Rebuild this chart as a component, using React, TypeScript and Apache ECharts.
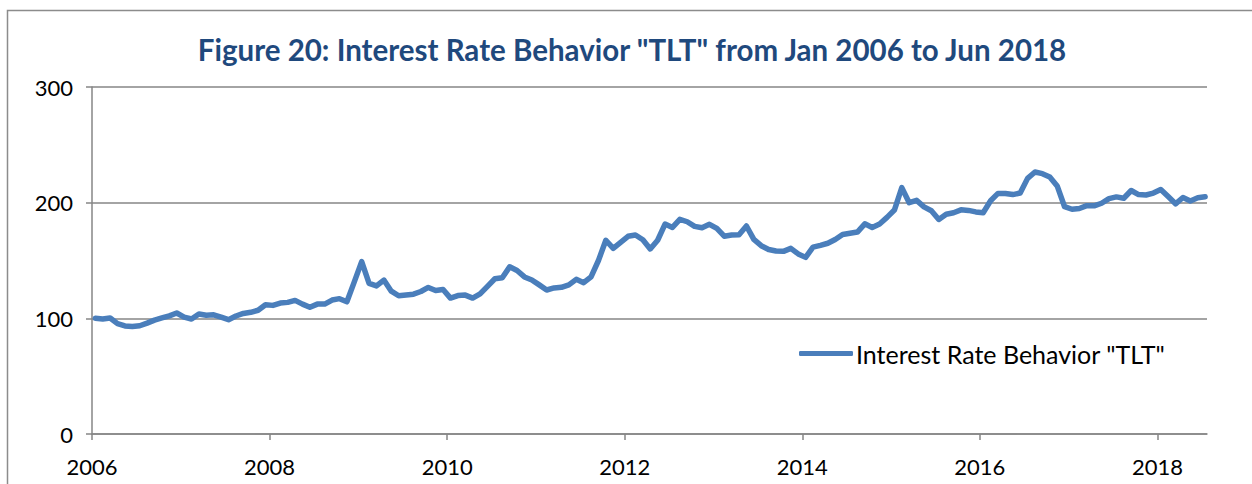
import React, { useEffect, useRef } from "react";
import * as echarts from "echarts";

const TITLE = 'Figure 20: Interest Rate Behavior "TLT" from Jan 2006 to Jun 2018';
const SERIES_NAME = 'Interest Rate Behavior "TLT"';
const START_YEAR = 2006;
// observations are mid-month; offset in months from the 1st of the month
const OBS_OFFSET = 0.45;
const X_TICK_MONTHS = [0, 24, 48, 72, 96, 120, 144];
const Y_TICKS = [0, 100, 200, 300];

// monthly values starting Jan 2006
const values2006to2008 = [
  100, 99.4, 100.3, 95.4, 93.4, 92.9, 93.6, 95.9, 98.4, 100.3, 102.1, 104.6,
  101, 99.4, 103.7, 102.6, 103, 101, 98.8, 102, 104.2, 105.2, 107, 111.8,
];
const values2008to2010 = [
  111.2, 113.2, 113.8, 115.5, 112.3, 109.5, 112.3, 112.3, 115.8, 117, 114.3, 131.5,
  149, 130.2, 128, 133.1, 123.5, 119.5, 120.2, 120.9, 123.2, 126.7, 124, 125,
];
const values2010to2012 = [
  117.5, 119.7, 120.1, 117.5, 121.1, 127.7, 134.2, 135, 144.6, 141.4, 135.8, 133.2,
  128.9, 124.5, 126.3, 126.8, 128.9, 133.7, 130.8, 135.9, 150, 167.5, 160.5, 165.7,
];
const values2012to2014 = [
  170.9, 172, 167.9, 160, 167.5, 181.5, 178.6, 185.6, 183.5, 179.5, 178.3, 181.3,
  177.7, 171, 172, 172.3, 179.8, 168.2, 162.8, 159.5, 158.2, 157.9, 160.5, 155.7,
];
const values2014to2016 = [
  152.7, 161.5, 163.1, 164.9, 168.2, 172.5, 173.5, 174.6, 181.7, 178.6, 181.6, 187.3,
  193.6, 213, 200, 202, 196.4, 193, 185.5, 190, 191.3, 193.8, 193.3, 192,
];
const values2016to2018 = [
  191.3, 201.6, 208, 208, 207, 208.3, 221, 226.5, 225.1, 222.2, 214.5, 196.5,
  194.3, 195, 197.4, 197.3, 199.5, 203.5, 205, 203.8, 210.5, 207, 206.6, 208.3,
];
const values2018 = [211.4, 205.3, 199, 204.5, 201.5, 204.2, 205.1];

const tltValues = [
  ...values2006to2008,
  ...values2008to2010,
  ...values2010to2012,
  ...values2012to2014,
  ...values2014to2016,
  ...values2016to2018,
  ...values2018,
];

const FONT = "Lato";

export default function App() {
  const ref = useRef<HTMLDivElement>(null);

  useEffect(() => {
    if (!ref.current) return;
    const chart = echarts.init(ref.current, null, { renderer: "svg" });
    const data = tltValues.map((v, i) => [i + OBS_OFFSET, v]);
    chart.setOption({
      animation: false,
      backgroundColor: "#ffffff",
      title: {
        text: TITLE,
        left: 627,
        top: 29,
        textAlign: "center",
        textStyle: {
          fontFamily: FONT,
          fontWeight: "bold",
          fontSize: 29.5,
          color: "#1F497D",
        },
      },
      graphic: [
        {
          type: "rect",
          shape: { x: 7.5, y: 10.5, width: 1400, height: 600 },
          style: { fill: "none", stroke: "#8c8c8c", lineWidth: 1.5 },
          silent: true,
        },
      ],
      legend: {
        left: 794,
        top: 336,
        icon: "roundRect",
        itemWidth: 54,
        itemHeight: 5,
        itemGap: 4,
        textStyle: { fontFamily: FONT, fontSize: 25, color: "#000", padding: [0, 0, 0, -2] },
        data: [SERIES_NAME],
      },
      grid: { left: 92, right: 45, top: 87, bottom: 50, containLabel: false },
      xAxis: {
        type: "value",
        min: 0,
        max: 150.7,
        interval: 24,
        splitLine: { show: false },
        axisLine: { show: true, lineStyle: { color: "#868686", width: 1.5 } },
        axisTick: {
          show: true,
          length: 6,
          customValues: X_TICK_MONTHS,
          lineStyle: { color: "#868686", width: 1.5 },
        },
        axisLabel: {
          customValues: X_TICK_MONTHS,
          formatter: (v: number) => String(START_YEAR + Math.round(v / 12)),
          fontFamily: FONT,
          fontSize: 22,
          color: "#000",
          margin: 21,
        },
      },
      yAxis: {
        type: "value",
        min: 0,
        max: 300,
        interval: 100,
        axisLine: { show: true, lineStyle: { color: "#868686", width: 1.5 } },
        axisTick: { show: true, length: 6, lineStyle: { color: "#868686", width: 1.5 } },
        splitLine: { show: true, lineStyle: { color: "#868686", width: 1.5 } },
        axisLabel: {
          customValues: Y_TICKS,
          fontFamily: FONT,
          fontSize: 22,
          color: "#000",
          margin: 19,
        },
      },
      series: [
        {
          name: SERIES_NAME,
          type: "line",
          data,
          showSymbol: false,
          symbol: "none",
          smooth: false,
          lineStyle: { color: "#4A7EBB", width: 5.5, cap: "round", join: "round" },
          itemStyle: { color: "#4A7EBB" },
        },
      ],
    });
    return () => chart.dispose();
  }, []);

  return (
    <div
      ref={ref}
      style={{ position: "fixed", left: 0, top: 0, width: 1252, height: 484 }}
    />
  );
}
